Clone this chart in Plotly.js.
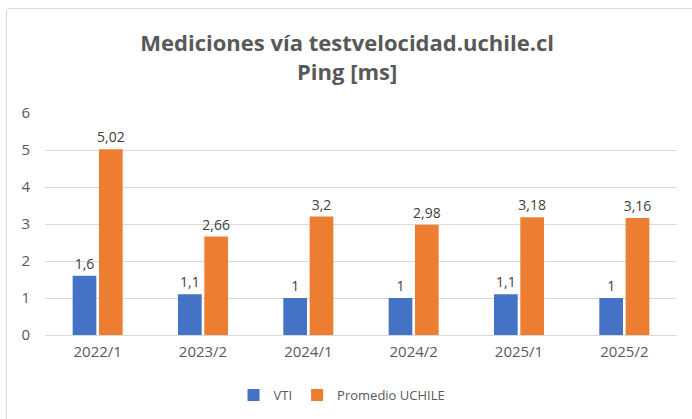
<!DOCTYPE html>
<html>
<head>
<meta charset="utf-8">
<script src="https://cdn.plot.ly/plotly-3.0.1.min.js"></script>
<style>
  body { margin: 0; background: #fff; overflow: hidden; }
  #ping-chart {
    position: absolute; left: 6px; top: 8px;
    width: 690px; height: 420px;
    border: 1px solid #d9d9d9; border-radius: 3px;
  }
</style>
</head>
<body>
<div id="ping-chart"></div>
<script>
var periodos = ['2022/1', '2023/2', '2024/1', '2024/2', '2025/1', '2025/2'];
var vti = [1.6, 1.1, 1, 1, 1.1, 1];
var uchile = [5.02, 2.66, 3.2, 2.98, 3.18, 3.16];

// etiquetas con coma decimal
function etiquetas(vals) {
    return vals.map(function (v) { return String(v).replace('.', ','); });
}

var labelFont = {family: 'Open Sans, sans-serif', size: 14, color: '#404040'};

var trace1 = {
    x: periodos,
    y: vti,
    type: 'bar',
    name: 'VTI',
    marker: {color: '#4472C4'},
    text: etiquetas(vti),
    textposition: 'outside',
    constraintext: 'none',
    textfont: labelFont,
    cliponaxis: false
};

var trace2 = {
    x: periodos,
    y: uchile,
    type: 'bar',
    name: 'Promedio UCHILE',
    marker: {color: '#ED7D31'},
    text: etiquetas(uchile),
    textposition: 'outside',
    constraintext: 'none',
    textfont: labelFont,
    cliponaxis: false
};

var data = [trace1, trace2];

var layout = {
    width: 690,
    height: 420,
    margin: {l: 38, r: 20, t: 104, b: 94},
    paper_bgcolor: '#fff',
    plot_bgcolor: '#fff',
    font: {family: 'Open Sans, sans-serif', color: '#595959'},
    title: {
        text: '<b>Mediciones vía testvelocidad.uchile.cl<br>Ping [ms]</b>',
        font: {family: 'Open Sans, sans-serif', size: 22, color: '#595959'},
        x: 0.493,
        xanchor: 'center',
        y: 0.9,
        yanchor: 'top'
    },
    barmode: 'group',
    bargap: 0.5,
    bargroupgap: 0.1,
    showlegend: true,
    legend: {
        orientation: 'h',
        x: 0.47,
        xanchor: 'center',
        y: -0.27,
        yanchor: 'middle',
        font: {size: 13, color: '#595959'},
        itemwidth: 30
    },
    xaxis: {
        tickfont: {size: 15, color: '#595959'},
        showline: true,
        linecolor: '#d9d9d9',
        ticklabelstandoff: 3
    },
    yaxis: {
        range: [0, 6],
        dtick: 1,
        tickfont: {size: 15, color: '#595959'},
        gridcolor: '#d9d9d9',
        zeroline: false,
        showline: false,
        ticklabelstandoff: 14
    }
};

Plotly.newPlot('ping-chart', data, layout, {displayModeBar: false});
</script>
</body>
</html>
